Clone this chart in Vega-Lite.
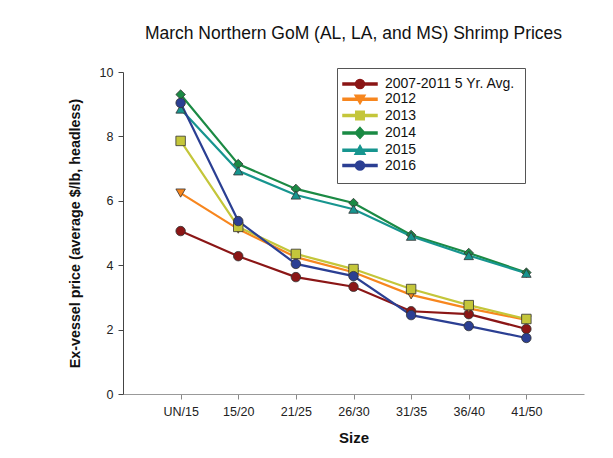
{
  "$schema": "https://vega.github.io/schema/vega-lite/v6.json",
  "autosize": "none",
  "width": 461,
  "height": 322,
  "padding": {"left": 123, "top": 72, "right": 29, "bottom": 64},
  "background": "white",
  "config": {
    "font": "Liberation Sans",
    "view": {"stroke": null}
  },
  "title": {
    "text": "March Northern GoM (AL, LA, and MS) Shrimp Prices",
    "fontSize": 17.5,
    "fontWeight": "normal",
    "color": "#111",
    "anchor": "middle",
    "offset": 24
  },
  "data": {
    "values": [
      {"series": "2007-2011 5 Yr. Avg.", "size": "UN/15", "price": 5.06},
      {"series": "2007-2011 5 Yr. Avg.", "size": "15/20", "price": 4.28},
      {"series": "2007-2011 5 Yr. Avg.", "size": "21/25", "price": 3.63},
      {"series": "2007-2011 5 Yr. Avg.", "size": "26/30", "price": 3.33},
      {"series": "2007-2011 5 Yr. Avg.", "size": "31/35", "price": 2.57},
      {"series": "2007-2011 5 Yr. Avg.", "size": "36/40", "price": 2.48},
      {"series": "2007-2011 5 Yr. Avg.", "size": "41/50", "price": 2.02},
      {"series": "2012", "size": "UN/15", "price": 6.24},
      {"series": "2012", "size": "15/20", "price": 5.12},
      {"series": "2012", "size": "21/25", "price": 4.25},
      {"series": "2012", "size": "26/30", "price": 3.78},
      {"series": "2012", "size": "31/35", "price": 3.08},
      {"series": "2012", "size": "36/40", "price": 2.66},
      {"series": "2012", "size": "41/50", "price": 2.3},
      {"series": "2013", "size": "UN/15", "price": 7.86},
      {"series": "2013", "size": "15/20", "price": 5.19},
      {"series": "2013", "size": "21/25", "price": 4.35},
      {"series": "2013", "size": "26/30", "price": 3.88},
      {"series": "2013", "size": "31/35", "price": 3.26},
      {"series": "2013", "size": "36/40", "price": 2.76},
      {"series": "2013", "size": "41/50", "price": 2.33},
      {"series": "2014", "size": "UN/15", "price": 9.3},
      {"series": "2014", "size": "15/20", "price": 7.14},
      {"series": "2014", "size": "21/25", "price": 6.37},
      {"series": "2014", "size": "26/30", "price": 5.93},
      {"series": "2014", "size": "31/35", "price": 4.94},
      {"series": "2014", "size": "36/40", "price": 4.38},
      {"series": "2014", "size": "41/50", "price": 3.77},
      {"series": "2015", "size": "UN/15", "price": 8.85},
      {"series": "2015", "size": "15/20", "price": 6.93},
      {"series": "2015", "size": "21/25", "price": 6.18},
      {"series": "2015", "size": "26/30", "price": 5.74},
      {"series": "2015", "size": "31/35", "price": 4.9},
      {"series": "2015", "size": "36/40", "price": 4.3},
      {"series": "2015", "size": "41/50", "price": 3.75},
      {"series": "2016", "size": "UN/15", "price": 9.04},
      {"series": "2016", "size": "15/20", "price": 5.37},
      {"series": "2016", "size": "21/25", "price": 4.04},
      {"series": "2016", "size": "26/30", "price": 3.66},
      {"series": "2016", "size": "31/35", "price": 2.45},
      {"series": "2016", "size": "36/40", "price": 2.11},
      {"series": "2016", "size": "41/50", "price": 1.74}
    ]
  },
  "encoding": {
    "x": {
      "field": "size",
      "type": "ordinal",
      "sort": ["UN/15", "15/20", "21/25", "26/30", "31/35", "36/40", "41/50"],
      "scale": {"type": "point", "padding": 1},
      "axis": {
        "title": "Size",
        "titleFontSize": 15,
        "titleFontWeight": "bold",
        "titleColor": "#111",
        "titlePadding": 13,
        "labelAngle": 0,
        "labelFontSize": 12.5,
        "labelColor": "#222",
        "labelPadding": 6,
        "tickSize": 5,
        "tickColor": "#888",
        "domainColor": "#999",
        "grid": false
      }
    },
    "y": {
      "field": "price",
      "type": "quantitative",
      "scale": {"domain": [0, 10], "nice": false},
      "axis": {
        "title": "Ex-vessel price (average $/lb, headless)",
        "titleFontSize": 14.3,
        "titleFontWeight": "bold",
        "titleColor": "#111",
        "titlePadding": 17,
        "values": [0, 2, 4, 6, 8, 10],
        "labelFontSize": 12.5,
        "labelColor": "#222",
        "labelPadding": 5,
        "tickSize": 5,
        "tickColor": "#444",
        "domainColor": "#444",
        "grid": false
      }
    },
    "color": {
      "field": "series",
      "type": "nominal",
      "scale": {
        "domain": ["2007-2011 5 Yr. Avg.", "2012", "2013", "2014", "2015", "2016"],
        "range": ["#8B1616", "#F7861E", "#C4C63A", "#1B8A44", "#17958F", "#2B3F93"]
      },
      "legend": {
        "title": null,
        "orient": "none",
        "legendX": 214,
        "legendY": -4,
        "padding": 9,
        "fillColor": "white",
        "strokeColor": "#555",
        "labelFontSize": 14,
        "labelColor": "#111",
        "labelOffset": 25,
        "symbolSize": 100,
        "symbolOpacity": 1,
        "rowPadding": 0.3
      }
    }
  },
  "layer": [
    {
      "mark": {"type": "line", "strokeWidth": 2.2},
      "encoding": {"detail": {"field": "series"}}
    },
    {
      "mark": {"type": "point", "filled": true, "size": 90, "stroke": "#333", "strokeWidth": 0.8, "opacity": 1},
      "encoding": {
        "shape": {
          "condition": [
            {"test": "datum.series === '2012'", "value": "triangle-down"},
            {"test": "datum.series === '2013'", "value": "square"},
            {"test": "datum.series === '2014'", "value": "diamond"},
            {"test": "datum.series === '2015'", "value": "triangle-up"}
          ],
          "value": "circle"
        }
      }
    },
    {
      "mark": {"type": "point", "filled": true, "size": 0, "opacity": 1},
      "encoding": {
        "shape": {
          "field": "series",
          "type": "nominal",
          "scale": {
            "domain": ["2007-2011 5 Yr. Avg.", "2012", "2013", "2014", "2015", "2016"],
            "range": [
              "M-2,-0.2H4.8V0.2H-2ZM2.3,0A0.9,0.9 0 1,1 0.5,0A0.9,0.9 0 1,1 2.3,0Z",
              "M-2,-0.2H4.8V0.2H-2ZM0.4,-0.8L2.4,-0.8L1.4,0.9Z",
              "M-2,-0.2H4.8V0.2H-2ZM0.55,-0.85H2.25V0.85H0.55Z",
              "M-2,-0.2H4.8V0.2H-2ZM1.4,-1.1L2.4,0L1.4,1.1L0.4,0Z",
              "M-2,-0.2H4.8V0.2H-2ZM1.4,-0.95L2.4,0.8L0.4,0.8Z",
              "M-2,-0.2H4.8V0.2H-2ZM2.3,0A0.9,0.9 0 1,1 0.5,0A0.9,0.9 0 1,1 2.3,0Z"
            ]
          },
          "legend": null
        }
      }
    }
  ]
}
